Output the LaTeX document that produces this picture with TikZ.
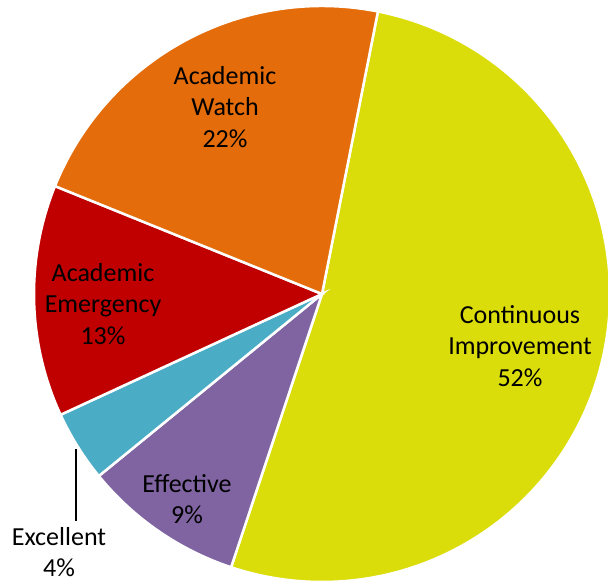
\documentclass[tikz,border=0pt]{standalone}
\usepackage{fontspec}
\setmainfont{Carlito}
\definecolor{improveyellow}{RGB}{219,221,11}
\definecolor{watchorange}{RGB}{228,108,10}
\definecolor{emergred}{RGB}{192,0,0}
\definecolor{excelteal}{RGB}{75,172,198}
\definecolor{effectpurple}{RGB}{128,100,162}
\begin{document}
\begin{tikzpicture}[x=1pt,y=1pt,
  slice/.style={draw=white,line width=2.5pt,line join=miter},
  lbl/.style={font=\fontsize{26}{31.5}\selectfont,align=center,inner sep=2pt}]
\useasboundingbox (0,0) rectangle (608,584);
% centre of pie
\coordinate (c) at (322,290);
% slices, clockwise from the top
\filldraw[slice,fill=improveyellow] (c) -- ++(78.8:288) arc (78.8:-108.4:288) -- cycle;
\filldraw[slice,fill=effectpurple] (c) -- ++(-108.4:288) arc (-108.4:-140.8:288) -- cycle;
\filldraw[slice,fill=excelteal] (c) -- ++(-140.8:288) arc (-140.8:-155.2:288) -- cycle;
\filldraw[slice,fill=emergred] (c) -- ++(-155.2:288) arc (-155.2:-202:288) -- cycle;
\filldraw[slice,fill=watchorange] (c) -- ++(-202:288) arc (-202:-281.2:288) -- cycle;
% labels
\node[lbl] (watch) at (225,477) {Academic\\Watch\\22\%};
\node[lbl] (emerg) at (103,280) {Academic\\Emergency\\13\%};
\node[lbl] (improve) at (520,238) {Continuous\\Improvement\\52\%};
\node[lbl] (effect) at (187,85) {Effective\\9\%};
\node[lbl] (excel) at (59,32) {Excellent\\4\%};
% leader line for excellent
\coordinate (exc top) at (76,135);
\draw[line width=1.2pt,shorten >=4pt] (exc top) -- (exc top |- excel.north);
\end{tikzpicture}
\end{document}
